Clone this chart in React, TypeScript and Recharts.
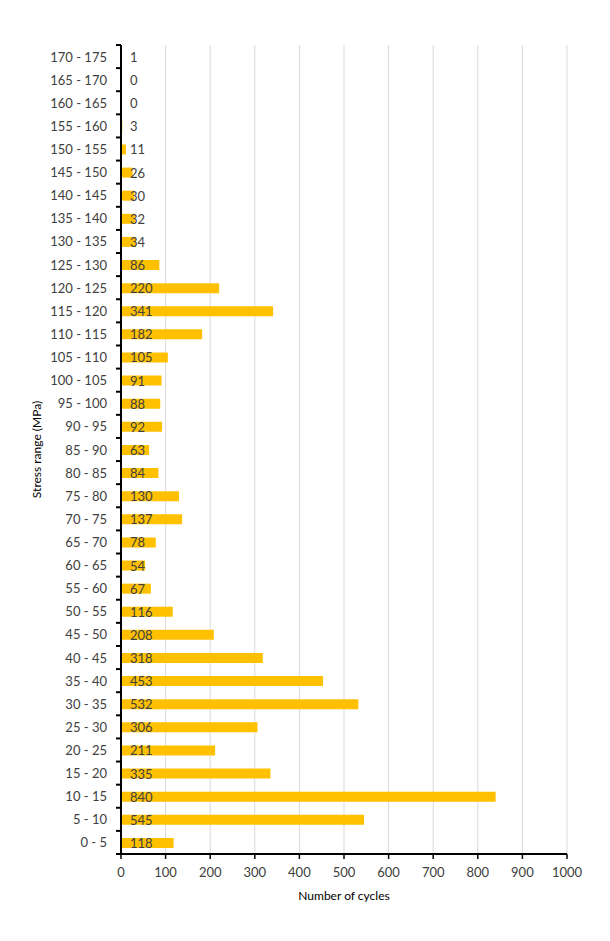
import React from "react";
import { BarChart, Bar, XAxis, YAxis, CartesianGrid, LabelList } from "recharts";

const categories = [
  "0 - 5", "5 - 10", "10 - 15", "15 - 20", "20 - 25", "25 - 30", "30 - 35", "35 - 40",
  "40 - 45", "45 - 50", "50 - 55", "55 - 60", "60 - 65", "65 - 70", "70 - 75", "75 - 80",
  "80 - 85", "85 - 90", "90 - 95", "95 - 100", "100 - 105", "105 - 110", "110 - 115",
  "115 - 120", "120 - 125", "125 - 130", "130 - 135", "135 - 140", "140 - 145",
  "145 - 150", "150 - 155", "155 - 160", "160 - 165", "165 - 170", "170 - 175",
];
const cycles = [
  118, 545, 840, 335, 211, 306, 532, 453, 318, 208, 116, 67, 54, 78, 137, 130, 84, 63,
  92, 88, 91, 105, 182, 341, 220, 86, 34, 32, 30, 26, 11, 3, 0, 0, 1,
];
const xTicks = [0, 100, 200, 300, 400, 500, 600, 700, 800, 900, 1000];

const data = categories.map((c, i) => ({ range: c, count: cycles[i] }));

const W = 594;
const H = 925;
const M = { top: 37, right: 35, bottom: 0, left: 0 };
const YW = 113;
const XH = 79;
const PLOT_H = H - M.top - M.bottom - XH;
const BAND = PLOT_H / categories.length;
const FONT = "Lato, 'Open Sans', sans-serif";

const YTick = (props: any) => {
  const { x, y, payload, index } = props;
  const ax = YW + M.left;
  const i = categories.indexOf(payload.value);
  const v = cycles[i];
  return (
    <g>
      <text x={x - 6} y={y} textAnchor="end" dominantBaseline="central" fontSize={13} fill="#404040" fontFamily={FONT}>
        {payload.value}
      </text>
      {v === 0 ? (
        <text x={ax + 9} y={y} textAnchor="start" dominantBaseline="central" fontSize={13} fill="#404040" fontFamily={FONT}>
          {String(v)}
        </text>
      ) : null}
      <line x1={ax - 5} x2={ax} y1={y + BAND / 2} y2={y + BAND / 2} stroke="#000" strokeWidth={2} />
      {index === categories.length - 1 ? (
        <line x1={ax - 5} x2={ax} y1={y - BAND / 2} y2={y - BAND / 2} stroke="#000" strokeWidth={2} />
      ) : null}
    </g>
  );
};

const BarLabel = (props: any) => {
  const { x, y, height, value, viewBox } = props;
  const bx = x ?? viewBox?.x ?? 0;
  const by = y ?? viewBox?.y ?? 0;
  const bh = height ?? viewBox?.height ?? 0;
  return (
    <text x={bx + 9} y={by + bh / 2} dominantBaseline="central" textAnchor="start" fontSize={13} fill="#404040" fontFamily={FONT}>
      {value}
    </text>
  );
};

export default function App() {
  return (
    <BarChart width={W} height={H} data={data} layout="vertical" margin={M} barSize={10}>
      <CartesianGrid horizontal={false} stroke="#D9D9D9" strokeWidth={1} />
      <XAxis
        type="number"
        domain={[0, 1000]}
        ticks={xTicks}
        interval={0}
        height={XH}
        axisLine={{ stroke: "#000", strokeWidth: 2 }}
        tickLine={{ stroke: "#000", strokeWidth: 1.5 }}
        tickSize={5}
        tickMargin={9}
        tick={{ fontSize: 13, fill: "#404040", fontFamily: FONT }}
        label={{ value: "Number of cycles", position: "insideBottom", offset: 33, fontSize: 12, fill: "#000", fontFamily: FONT }}
      />
      <YAxis
        type="category"
        dataKey="range"
        reversed
        width={YW}
        interval={0}
        axisLine={{ stroke: "#000", strokeWidth: 2 }}
        tickLine={false}
        tick={<YTick />}
        label={{ value: "Stress range (MPa)", angle: -90, position: "insideLeft", offset: 29, fontSize: 12, fill: "#000", fontFamily: FONT, style: { textAnchor: "middle" } }}
      />
      <Bar dataKey="count" fill="#FFC000" isAnimationActive={false}>
        <LabelList dataKey="count" content={<BarLabel />} />
      </Bar>
    </BarChart>
  );
}
